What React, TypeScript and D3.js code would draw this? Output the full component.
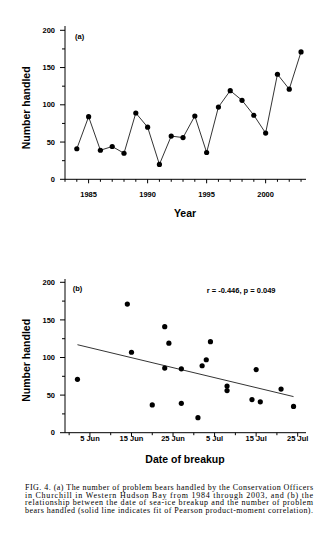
import React from "react";
import * as d3 from "d3";

const years = [1984, 1985, 1986, 1987, 1988, 1989, 1990, 1991, 1992, 1993, 1994, 1995, 1996, 1997, 1998, 1999, 2000, 2001, 2002, 2003];
const handledByYear = [41, 84, 39, 44, 35, 89, 70, 20, 58, 56, 85, 36, 97, 119, 106, 86, 62, 141, 121, 171];

const breakupDates = ["2 Jun", "14 Jun", "15 Jun", "20 Jun", "23 Jun", "23 Jun", "24 Jun", "27 Jun", "27 Jun", "1 Jul", "2 Jul", "3 Jul", "4 Jul", "8 Jul", "8 Jul", "14 Jul", "15 Jul", "16 Jul", "21 Jul", "24 Jul"];
const breakupHandled = [71, 171, 107, 37, 141, 86, 119, 85, 39, 20, 89, 97, 121, 62, 56, 44, 84, 41, 58, 35];

const fitDates = ["2 Jun", "24 Jul"];
const fitValues = [117, 48];

const yTicks = [0, 50, 100, 150, 200];
const yMinorTicks = [25, 75, 125, 175];
const yearTickLabels = [1985, 1990, 1995, 2000];
const dateTickLabels = ["5 Jun", "15 Jun", "25 Jun", "5 Jul", "15 Jul", "25 Jul"];
const dateMinorTicks = ["31 May", "10 Jun", "20 Jun", "30 Jun", "10 Jul", "20 Jul"];

const caption = [
  "FIG. 4. (a) The number of problem bears handled by the Conservation Officers",
  "in Churchill in Western Hudson Bay from 1984 through 2003, and (b) the",
  "relationship between the date of sea-ice breakup and the number of problem",
  "bears handled (solid line indicates fit of Pearson product-moment correlation).",
];

function dayOf(s: string): number {
  const [d, m] = s.split(" ");
  const n = +d;
  if (m === "May") return n - 31;
  if (m === "Jun") return n;
  return 30 + n;
}

const sans = "'Liberation Sans', Arial, sans-serif";
const serif = "'Liberation Serif', 'Times New Roman', serif";

export default function App() {
  const axL = 65;
  const axR = 306;
  // panel a
  const xa = d3.scaleLinear().domain([1983, 2003.42]).range([axL, axR]);
  const ya = d3.scaleLinear().domain([0, 200]).range([179.3, 30.3]);
  // panel b
  const xb = d3.scaleLinear().domain([-1, 57]).range([axL, axR]);
  const yb = d3.scaleLinear().domain([0, 200]).range([432.7, 282.3]);

  const lineA = d3
    .line<number>()
    .x((_, i) => xa(years[i]))
    .y((v) => ya(v));

  const fitLine = d3
    .line<number>()
    .x((_, i) => xb(dayOf(fitDates[i])))
    .y((v) => yb(v));

  const yearMinor = d3.range(1983, 2004).filter((y) => !yearTickLabels.includes(y));

  const yAxis = (y: d3.ScaleLinear<number, number>, top: number, key: string) => (
    <g key={key}>
      <line x1={axL} x2={axL} y1={top} y2={y(0)} stroke="#000" strokeWidth={1} />
      {yTicks.map((t) => (
        <g key={t}>
          <line x1={axL - 5} x2={axL} y1={y(t)} y2={y(t)} stroke="#000" strokeWidth={1} />
          <text x={axL - 10} y={y(t)} dy="0.35em" textAnchor="end" fontFamily={sans} fontWeight="bold" fontSize={7.5}>
            {t}
          </text>
        </g>
      ))}
      {yMinorTicks.map((t) => (
        <line key={t} x1={axL - 3} x2={axL} y1={y(t)} y2={y(t)} stroke="#000" strokeWidth={1} />
      ))}
    </g>
  );

  return (
    <svg width={326} height={545} style={{ position: "absolute", left: 0, top: 0, background: "#fff" }}>
      <rect width={326} height={545} fill="#fff" />
      {/* Panel a */}
      {yAxis(ya, 26, "ya")}
      <line x1={axL} x2={axR} y1={ya(0)} y2={ya(0)} stroke="#000" strokeWidth={1} />
      {yearTickLabels.map((t) => (
        <g key={t}>
          <line x1={xa(t)} x2={xa(t)} y1={ya(0)} y2={ya(0) + 4} stroke="#000" strokeWidth={1} />
          <text x={xa(t)} y={197} textAnchor="middle" fontFamily={sans} fontWeight="bold" fontSize={7.5}>
            {t}
          </text>
        </g>
      ))}
      {yearMinor.map((t) => (
        <line key={t} x1={xa(t)} x2={xa(t)} y1={ya(0)} y2={ya(0) + 2.5} stroke="#000" strokeWidth={1} />
      ))}
      <path d={lineA(handledByYear) || ""} fill="none" stroke="#000" strokeWidth={0.8} />
      {handledByYear.map((v, i) => (
        <circle key={i} cx={xa(years[i])} cy={ya(v)} r={2.6} fill="#000" />
      ))}
      <text x={75} y={36.7} dy="0.35em" fontFamily={sans} fontWeight="bold" fontSize={7.5}>
        (a)
      </text>
      <text
        transform={`translate(26.7,107.8) rotate(-90)`}
        textAnchor="middle"
        dy="0.35em"
        fontFamily={sans}
        fontWeight="bold"
        fontSize={10.5}
      >
        Number handled
      </text>
      <text x={185} y={213.3} dy="0.35em" textAnchor="middle" fontFamily={sans} fontWeight="bold" fontSize={10.5}>
        Year
      </text>

      {/* Panel b */}
      {yAxis(yb, 279, "yb")}
      <line x1={axL} x2={axR} y1={yb(0)} y2={yb(0)} stroke="#000" strokeWidth={1} />
      {dateTickLabels.map((t) => (
        <g key={t}>
          <line x1={xb(dayOf(t))} x2={xb(dayOf(t))} y1={yb(0)} y2={yb(0) + 4} stroke="#000" strokeWidth={1} />
          <text x={xb(dayOf(t))} y={441} textAnchor="middle" fontFamily={sans} fontWeight="bold" fontSize={7.5}>
            {t}
          </text>
        </g>
      ))}
      {dateMinorTicks.map((t) => (
        <line key={t} x1={xb(dayOf(t))} x2={xb(dayOf(t))} y1={yb(0)} y2={yb(0) + 2.5} stroke="#000" strokeWidth={1} />
      ))}
      <path d={fitLine(fitValues) || ""} fill="none" stroke="#000" strokeWidth={0.8} />
      {breakupHandled.map((v, i) => (
        <circle key={i} cx={xb(dayOf(breakupDates[i]))} cy={yb(v)} r={2.6} fill="#000" />
      ))}
      <text x={72.7} y={288.3} dy="0.35em" fontFamily={sans} fontWeight="bold" fontSize={7.5}>
        (b)
      </text>
      <text x={206.7} y={290} dy="0.35em" fontFamily={sans} fontWeight="bold" fontSize={7.5}>
        r = -0.446, p = 0.049
      </text>
      <text
        transform={`translate(26.7,360.3) rotate(-90)`}
        textAnchor="middle"
        dy="0.35em"
        fontFamily={sans}
        fontWeight="bold"
        fontSize={10.5}
      >
        Number handled
      </text>
      <text x={185} y={459.3} dy="0.35em" textAnchor="middle" fontFamily={sans} fontWeight="bold" fontSize={10.5}>
        Date of breakup
      </text>

      {/* Caption */}
      {caption.map((line, i) => (
        <text
          key={i}
          x={25}
          y={490 + i * 7.6}
          fontFamily={serif}
          fontSize={8}
          textLength={288}
          lengthAdjust="spacing"
        >
          {line}
        </text>
      ))}
    </svg>
  );
}
